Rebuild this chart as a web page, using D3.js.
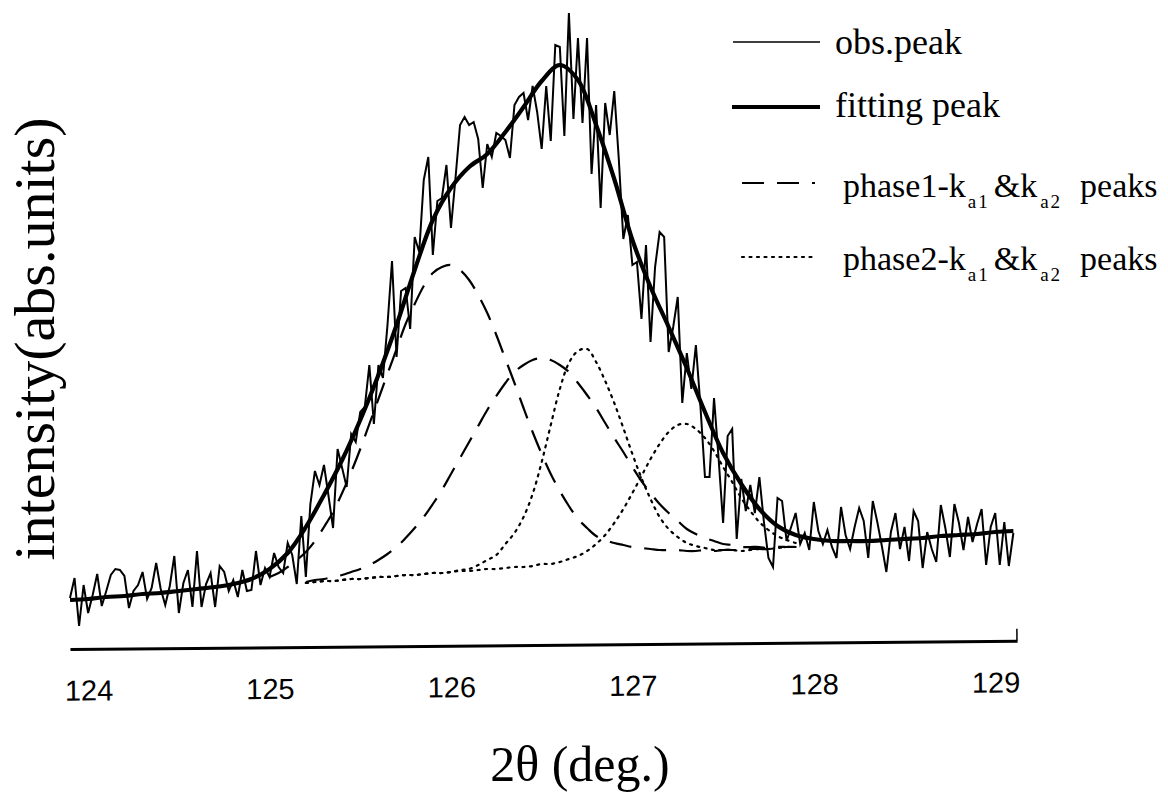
<!DOCTYPE html>
<html>
<head>
<meta charset="utf-8">
<script src="https://cdn.jsdelivr.net/npm/d3@7"></script>
<style>
  body { margin: 0; background: #fff; }
  svg { display: block; }
</style>
</head>
<body>
<svg id="chart" width="1168" height="795"></svg>
<script>
// X-ray diffraction profile: observed counts, fitted profile and the
// Kα1/Kα2 components of two phases, on a common 2θ axis.

// Observed scan: start angle, step (deg) and intensities (abs. units)
const obsStart = 123.9;
const obsStep = 0.025;
const obsCounts = [
  47, 67, 19, 60, 32, 50, 71, 39, 54, 70, 76, 75, 69, 37, 54, 60, 73, 46, 57, 82,
  56, 40, 59, 89, 32, 62, 75, 38, 94, 38, 61, 72, 38, 79, 73, 54, 65, 48, 75, 54,
  55, 94, 60, 77, 68, 92, 78, 72, 102, 90, 61, 129, 68,
  141, 174, 160, 180, 149, 117, 196, 177, 158, 211, 203, 233, 238, 280, 221, 280,
  267, 320, 384, 288, 354, 357, 316, 408, 393, 465, 488, 390, 444, 447, 480, 417,
  467, 520, 528, 520, 523, 506, 457, 501, 488, 512, 509, 505, 487, 540, 548, 552,
  525, 559, 533, 496, 559, 504, 600, 598, 509, 632, 526, 607, 522, 607, 471, 540,
  437, 542, 510, 554, 486, 406, 430, 380,
  383, 326, 400, 303, 378, 413, 408, 293, 318, 348, 242, 292, 256, 300, 239, 168,
  168, 247, 187, 122, 209, 216, 106, 166, 134, 160, 132, 168, 123, 87, 78, 147,
  144, 104, 118, 132, 101, 112, 95, 143, 114, 101, 115, 98, 87, 138, 110, 96,
  118, 137, 124, 87, 144, 123, 99, 73, 113, 132, 96, 118, 84, 134, 124, 77,
  113, 96, 83, 140, 117, 88, 141, 122, 95, 128, 103, 121, 136, 80, 118, 132,
  80, 123, 79, 112
];

// Fitted profile
const fitStart = 123.9;
const fitStep = 0.1;
const fitCounts = [
  45, 46, 48, 49, 51, 52, 54, 56, 58, 61, 66, 76, 92, 118, 150, 185, 225, 270,
  320, 375, 425, 457, 478, 491, 513, 538, 564, 580, 565, 520, 466, 405, 358, 318,
  277, 233, 192, 161, 136, 119, 110, 106, 104, 104, 104, 105, 106, 107, 109, 110,
  111, 113, 114
];

// Component peaks (each drawn on top of the background), step 0.05 deg
const compStep = 0.05;
const phase1Ka1Start = 125.0;
const phase1Ka1 = [
  68, 72, 78, 85, 93, 104, 118, 133, 152, 173, 196, 221, 246, 271, 296, 321, 341,
  359, 372, 378, 380, 375, 365, 350, 332, 310, 286, 262, 237, 213, 191, 171, 154,
  139, 126, 117, 109, 105, 102, 100, 98, 97, 96, 95, 95, 95, 94, 94, 95, 94, 95,
  95, 95, 96, 96, 96, 97, 98, 98
];
const otherStart = 125.2;
const phase1Ka2 = [
  63, 65, 66, 68, 70, 73, 76, 80, 85, 91, 98, 107, 117, 128, 141,
  155, 171, 187, 203, 219, 235, 249, 262, 273, 280, 285, 287, 285, 280, 273, 262,
  250, 237, 222, 207, 193, 178, 164, 152, 141, 132, 124, 116, 111, 107, 104, 101,
  100, 98, 98, 98, 97, 98, 98, 98
];
const phase2Ka1 = [
  62, 63, 64, 64, 65, 66, 66, 67, 68, 68, 69, 70, 70, 71, 72, 72,
  73, 75, 76, 80, 85, 90, 101, 112, 128, 151, 183, 220, 256, 282, 294, 296, 283,
  264, 242, 217, 191, 167, 146, 128, 116, 108, 102, 99, 97, 95, 95, 95, 94, 95,
  96, 96, 97, 98, 98
];
const phase2Ka2 = [
  62, 63, 64, 64, 65, 66, 66, 67, 68, 68, 69, 70, 70, 71, 72, 72,
  73, 74, 74, 75, 76, 76, 77, 78, 78, 79, 81, 81, 83, 86, 89, 94, 101, 110, 122,
  136, 152, 169, 186, 201, 213, 220, 221, 216, 207, 194, 178, 163, 147, 134, 123,
  115, 109, 105, 102
];

// Axis
const xTicks = [124, 125, 126, 127, 128, 129];
const xDomain = [123.9, 129.12];
const yDomain = [0, 630];
const xTitle = "2\u03b8 (deg.)";
const yTitle = "intensity(abs.units)";

// Legend rows: main text and subscripts alternate
const legendRows = [
  { parts: ["obs.peak"], style: "obs" },
  { parts: ["fitting peak"], style: "fit" },
  { parts: ["phase1-k", "a1", "&k", "a2", "peaks"], style: "dash" },
  { parts: ["phase2-k", "a1", "&k", "a2", "peaks"], style: "dot" }
];

const styles = {
  obs:  { width: 2.0, dash: null },
  fit:  { width: 4.2, dash: null },
  dash: { width: 2.2, dash: "22,13" },
  dot:  { width: 2.2, dash: "2,5.5" }
};

const serif = "'Liberation Serif', 'Times New Roman', serif";
const sans = "'Liberation Sans', Arial, sans-serif";

const svg = d3.select("#chart");
const x = d3.scaleLinear().domain(xDomain).range([70, 1017]);
const y = d3.scaleLinear().domain(yDomain).range([645, 15]);

const series = (start, step, vals) => vals.map((v, i) => [start + i * step, v]);
const lineLinear = d3.line().x(d => x(d[0])).y(d => y(d[1]));
const lineSmooth = d3.line().x(d => x(d[0])).y(d => y(d[1])).curve(d3.curveCatmullRom.alpha(0.5));

const plot = svg.append("g");

// observed scan
plot.append("path")
  .datum(series(obsStart, obsStep, obsCounts))
  .attr("fill", "none")
  .attr("stroke", "#000")
  .attr("stroke-width", styles.obs.width)
  .attr("stroke-linejoin", "miter")
  .attr("d", lineLinear);

// component peaks
[[phase1Ka1Start, phase1Ka1, "dash"], [otherStart, phase1Ka2, "dash"],
 [otherStart, phase2Ka1, "dot"], [otherStart, phase2Ka2, "dot"]]
  .forEach(([start, vals, st]) => {
    plot.append("path")
      .datum(series(start, compStep, vals))
      .attr("fill", "none")
      .attr("stroke", "#000")
      .attr("stroke-width", styles[st].width)
      .attr("stroke-dasharray", styles[st].dash)
      .attr("stroke-linecap", st === "dot" ? "round" : "butt")
      .attr("d", lineSmooth);
  });

// fitted profile
plot.append("path")
  .datum(series(fitStart, fitStep, fitCounts))
  .attr("fill", "none")
  .attr("stroke", "#000")
  .attr("stroke-width", styles.fit.width)
  .attr("stroke-linejoin", "round")
  .attr("d", lineSmooth);

// x axis
const axisG = svg.append("g")
  .attr("transform", "translate(0,645) rotate(-0.5, 543, 0)")
  .call(d3.axisBottom(x)
    .tickValues(xTicks)
    .tickFormat(d3.format("d"))
    .tickSizeInner(0)
    .tickSizeOuter(0)
    .tickPadding(31));
axisG.select(".domain").attr("stroke", "#000").attr("stroke-width", 3);
axisG.selectAll(".tick text")
  .attr("font-family", sans)
  .attr("font-size", 29)
  .attr("fill", "#000");
axisG.append("line")
  .attr("x1", x(xDomain[1])).attr("x2", x(xDomain[1]))
  .attr("y1", 0).attr("y2", -12)
  .attr("stroke", "#000").attr("stroke-width", 1.5);

// axis titles
svg.append("text")
  .attr("x", 580).attr("y", 781)
  .attr("text-anchor", "middle")
  .attr("font-family", serif)
  .attr("font-size", 50)
  .text(xTitle);

svg.append("text")
  .attr("transform", "translate(54,339) rotate(-90)")
  .attr("text-anchor", "middle")
  .attr("font-family", serif)
  .attr("font-size", 58)
  .text(yTitle);

// legend
const legend = svg.append("g");
const rowY = [42, 107, 183, 257];
const textY = [54, 117, 197, 270];
const sampleX = [[733, 820], [732, 820], [742, 815], [742, 817]];
const textX = [835, 835, 843, 843];
const rowFont = [36, 36, 34, 34];
// horizontal gap before each part of the phase rows
const partGap = [0, 2, 4, 3, 18];

legendRows.forEach((row, i) => {
  const st = styles[row.style];
  legend.append("line")
    .attr("x1", sampleX[i][0]).attr("x2", sampleX[i][1])
    .attr("y1", rowY[i]).attr("y2", rowY[i])
    .attr("stroke", "#000")
    .attr("stroke-width", row.style === "fit" ? 4 : (row.style === "obs" ? 1.5 : 2.2))
    .attr("stroke-dasharray", st.dash)
    .attr("stroke-linecap", row.style === "dot" ? "round" : "butt");

  const t = legend.append("text")
    .attr("x", textX[i]).attr("y", textY[i])
    .attr("font-family", serif)
    .attr("fill", "#000")
    .attr("font-size", rowFont[i]);
  row.parts.forEach((p, k) => {
    const isSub = k % 2 === 1;
    const ts = t.append("tspan").text(p)
      .attr("font-family", serif)
      .attr("dx", partGap[k]);
    if (isSub) {
      ts.attr("font-size", 19).attr("dy", 11).attr("letter-spacing", 2);
    } else if (k > 0) {
      ts.attr("dy", -11);
    }
  });
});
</script>
</body>
</html>
